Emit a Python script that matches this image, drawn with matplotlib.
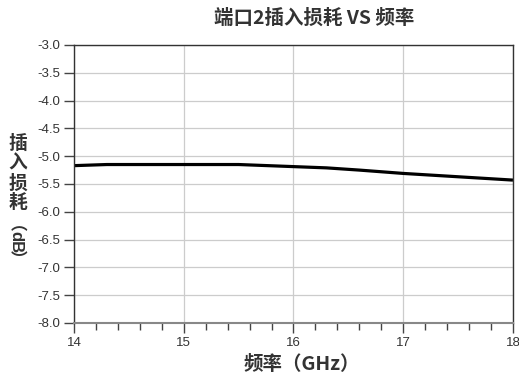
import matplotlib.pyplot as plt
from matplotlib.ticker import MultipleLocator, FormatStrFormatter

plt.rcParams['font.family'] = ['Liberation Sans', 'DejaVu Sans']
cjk = ['Noto Sans CJK SC', 'DejaVu Sans']

# insertion loss of port 2 over frequency
freq_ghz = [14.0, 14.3, 15.0, 15.5, 15.9, 16.3, 16.6, 17.0, 17.5, 18.0]
loss_db = [-5.17, -5.15, -5.15, -5.15, -5.18, -5.21, -5.25, -5.31, -5.37, -5.43]

title = '端口2插入损耗 VS 频率'
xlabel = '频率（GHz）'
ylabel_cn = ['插', '入', '损', '耗']
ylabel_unit = 'dB'

fig = plt.figure(figsize=(5.19, 3.74), dpi=100)
ax = fig.add_axes([0.1426, 0.1364, 0.8458, 0.7433])

ax.plot(freq_ghz, loss_db, color='black', linewidth=2.3, solid_capstyle='butt')

ax.set_xlim(14, 18)
ax.set_ylim(-8.0, -3.0)
ax.xaxis.set_major_locator(MultipleLocator(1))
ax.xaxis.set_minor_locator(MultipleLocator(0.2))
ax.yaxis.set_major_locator(MultipleLocator(0.5))
ax.yaxis.set_major_formatter(FormatStrFormatter('%.1f'))

ax.grid(True, which='major', color='#cccccc', linewidth=0.9)
ax.set_axisbelow(True)

for side in ['top', 'right', 'left']:
    ax.spines[side].set_color('#333333')
    ax.spines[side].set_linewidth(1.0)
ax.spines['bottom'].set_color('#888888')
ax.spines['bottom'].set_linewidth(1.5)

ax.tick_params(axis='both', which='major', length=7, width=1.0, color='#444444',
               labelsize=9.5, labelcolor='#333333', pad=3)
ax.tick_params(axis='x', which='minor', length=5, width=1.0, color='#444444')

fig.text(314 / 519, 1 - 18 / 374, title, family=cjk, fontsize=14, fontweight='bold',
         color='#333333', ha='center', va='center')
fig.text(302 / 519, 1 - 364 / 374, xlabel, family=cjk, fontsize=14, fontweight='bold',
         color='#333333', ha='center', va='center')

# vertical y label: upright hanzi stacked, vertical brackets, unit turned clockwise
for i, ch in enumerate(ylabel_cn):
    fig.text(18 / 519, 1 - (143 + 20 * i) / 374, ch, family=cjk, fontsize=13.5,
             fontweight='bold', color='#333333', ha='center', va='center')
fig.text(19 / 519, 1 - 225 / 374, '︵', family=cjk, fontsize=12, fontweight='bold',
         color='#333333', ha='center', va='center')
fig.text(16 / 519, 1 - 242 / 374, ylabel_unit, fontsize=12, fontweight='bold',
         color='#333333', ha='center', va='center', rotation=270)
fig.text(19 / 519, 1 - 260 / 374, '︶', family=cjk, fontsize=12, fontweight='bold',
         color='#333333', ha='center', va='center')

fig.savefig('out.png', dpi=100)
